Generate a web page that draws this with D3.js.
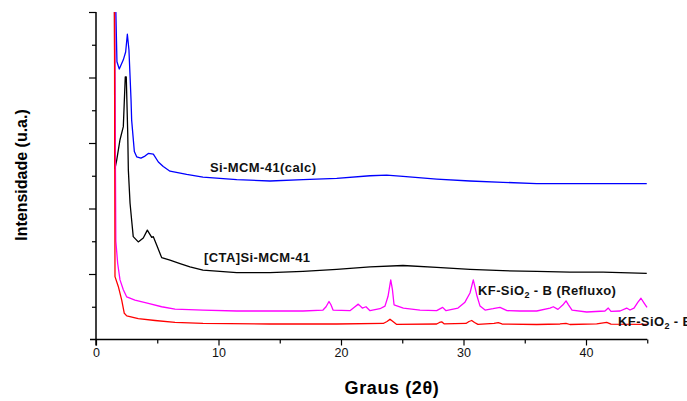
<!DOCTYPE html>
<html>
<head>
<meta charset="utf-8">
<script src="https://cdn.jsdelivr.net/npm/d3@7"></script>
<style>
  html, body { margin: 0; padding: 0; background: #fff; }
  svg { display: block; font-family: "Liberation Sans", Arial, sans-serif; }
</style>
</head>
<body>
<svg id="chart" width="687" height="401"></svg>
<script>
// ---- data (2θ, intensity in arbitrary units) ----
const xTicks = [0, 10, 20, 30, 40];
const xTitle = "Graus (2θ)";
const yTitle = "Intensidade (u.a.)";

const siMcmCalc = [
  [1.55, 5.6], [1.71, 4.24], [1.90, 4.13], [2.23, 4.27], [2.42, 4.39], [2.56, 4.66],
  [2.69, 4.42], [2.86, 3.66], [2.91, 3.35], [3.13, 2.87], [3.32, 2.79], [3.67, 2.77],
  [4.00, 2.80], [4.27, 2.84], [4.68, 2.83], [5.09, 2.71], [5.49, 2.64], [6.04, 2.57],
  [7.40, 2.52], [8.73, 2.48], [11.49, 2.44], [14.20, 2.42], [16.90, 2.44], [19.65, 2.46],
  [22.37, 2.50], [23.73, 2.51], [25.06, 2.49], [27.81, 2.45], [30.53, 2.42], [33.22, 2.40],
  [35.98, 2.38], [38.69, 2.38], [41.39, 2.38], [44.96, 2.38]
];

const ctaSiMcm = [
  [1.50, 5.6], [1.55, 2.61], [1.69, 2.74], [1.96, 3.05], [2.23, 3.25], [2.39, 4.01],
  [2.47, 4.01], [2.59, 3.15], [2.64, 2.59], [2.78, 2.08], [2.91, 1.82], [3.04, 1.57],
  [3.45, 1.49], [3.86, 1.55], [4.19, 1.67], [4.35, 1.62], [4.55, 1.56], [4.68, 1.57],
  [4.96, 1.44], [5.36, 1.25], [6.04, 1.21], [6.86, 1.16], [7.67, 1.11], [8.73, 1.06],
  [11.49, 1.02], [14.20, 1.02], [16.90, 1.04], [19.65, 1.07], [22.37, 1.11], [25.06, 1.13],
  [27.81, 1.10], [30.53, 1.07], [33.22, 1.05], [35.98, 1.04], [38.69, 1.03], [41.39, 1.03],
  [44.96, 1.01]
];

const kfRefluxo = [
  [1.50, 5.6], [1.62, 1.5], [1.77, 1.16], [1.96, 0.91], [2.23, 0.76], [2.51, 0.65],
  [3.18, 0.60], [4.27, 0.55], [5.36, 0.50], [6.45, 0.465], [8.73, 0.45], [11.49, 0.435],
  [14.20, 0.435], [16.90, 0.435], [18.53, 0.45], [18.78, 0.50], [19.02, 0.58], [19.18, 0.53],
  [19.35, 0.45], [20.73, 0.44], [21.14, 0.50], [21.41, 0.54], [21.74, 0.48], [22.04, 0.50],
  [22.37, 0.44], [23.18, 0.47], [23.59, 0.51], [23.84, 0.66], [24.06, 0.91], [24.20, 0.76],
  [24.33, 0.53], [25.09, 0.48], [26.45, 0.45], [27.81, 0.44], [28.30, 0.49], [28.57, 0.44],
  [29.55, 0.48], [30.12, 0.57], [30.53, 0.71], [30.80, 0.91], [31.08, 0.68], [31.35, 0.51],
  [31.76, 0.45], [32.41, 0.47], [32.98, 0.49], [33.55, 0.44], [34.61, 0.435], [35.98, 0.435],
  [37.06, 0.48], [37.33, 0.50], [37.71, 0.46], [38.12, 0.53], [38.37, 0.59], [38.57, 0.53],
  [38.86, 0.45], [40.06, 0.42], [41.55, 0.435], [41.82, 0.48], [42.04, 0.43], [42.78, 0.435],
  [43.32, 0.48], [43.59, 0.45], [43.92, 0.48], [44.24, 0.57], [44.49, 0.63], [44.73, 0.56],
  [44.98, 0.49]
];

const kfB = [
  [1.50, 5.6], [1.55, 0.96], [1.82, 0.81], [2.10, 0.60], [2.31, 0.40], [2.51, 0.36],
  [3.45, 0.32], [4.82, 0.29], [6.45, 0.26], [8.73, 0.245], [14.20, 0.237], [19.65, 0.237],
  [23.45, 0.245], [23.76, 0.275], [24.00, 0.31], [24.24, 0.275], [24.55, 0.23], [27.81, 0.237],
  [28.04, 0.26], [28.22, 0.27], [28.41, 0.24], [30.20, 0.245], [30.45, 0.275], [30.67, 0.29],
  [30.90, 0.26], [31.18, 0.23], [32.49, 0.245], [32.84, 0.256], [33.14, 0.237], [35.98, 0.229],
  [37.88, 0.237], [38.37, 0.247], [38.69, 0.229], [40.87, 0.24], [41.69, 0.26], [42.04, 0.234],
  [45.00, 0.232]
];

const seriesNames = ["Si-MCM-41(calc)", "[CTA]Si-MCM-41", "KF-SiO₂ - B (Refluxo)", "KF-SiO₂ - B"];
const seriesColors = ["#0000ff", "#000000", "#ff00ff", "#ff0000"];

// ---- layout ----
const svg = d3.select("#chart");
const mLeft = 96, mRight = 647.25, mTop = 12, mBottom = 339.5;

const x = d3.scaleLinear().domain([0, 45]).range([mLeft, mRight]);
const y = d3.scaleLinear().domain([0, 5]).range([mBottom, mTop]);

svg.append("defs").append("clipPath").attr("id", "plotclip")
  .append("rect").attr("x", mLeft).attr("y", mTop).attr("width", mRight - mLeft + 2).attr("height", mBottom - mTop);

const line = d3.line().x(d => x(d[0])).y(d => y(d[1]));

const data = [siMcmCalc, ctaSiMcm, kfRefluxo, kfB];
const plot = svg.append("g").attr("clip-path", "url(#plotclip)");
[1, 0, 2, 3].forEach(i => {
  plot.append("path")
    .datum(data[i])
    .attr("fill", "none")
    .attr("stroke", seriesColors[i])
    .attr("stroke-width", 1.3)
    .attr("stroke-linejoin", "round")
    .attr("d", line);
});

// ---- axes ----
const xAxisMajor = d3.axisBottom(x).tickValues(xTicks).tickSize(6).tickPadding(3).tickFormat(d3.format("d"));
const gx = svg.append("g").attr("transform", `translate(0,${mBottom})`).call(xAxisMajor);
gx.select(".domain").remove();
gx.selectAll(".tick line").attr("stroke", "#000").attr("stroke-width", 1.2);
gx.selectAll(".tick text").attr("font-size", 12.5).attr("fill", "#111")
  .attr("font-family", "Liberation Sans, Arial, sans-serif");
const xMinor = d3.axisBottom(x).tickValues([5, 15, 25, 35, 45]).tickSize(4).tickFormat("");
const gxm = svg.append("g").attr("transform", `translate(0,${mBottom})`).call(xMinor);
gxm.select(".domain").remove();
gxm.selectAll(".tick line").attr("stroke", "#000").attr("stroke-width", 1.2);

const yAxisMajor = d3.axisLeft(y).tickValues([1, 2, 3, 4, 5]).tickSize(7).tickFormat("");
const gy = svg.append("g").attr("transform", `translate(${mLeft},0)`).call(yAxisMajor);
gy.select(".domain").remove();
gy.selectAll(".tick line").attr("stroke", "#000").attr("stroke-width", 1.2);
const yMinor = d3.axisLeft(y).tickValues([0.5, 1.5, 2.5, 3.5, 4.5]).tickSize(4).tickFormat("");
const gym = svg.append("g").attr("transform", `translate(${mLeft},0)`).call(yMinor);
gym.select(".domain").remove();
gym.selectAll(".tick line").attr("stroke", "#000").attr("stroke-width", 1.2);

svg.append("line").attr("x1", mLeft - 6).attr("x2", mRight).attr("y1", mBottom).attr("y2", mBottom)
  .attr("stroke", "#000").attr("stroke-width", 1.5);
svg.append("line").attr("x1", mLeft).attr("x2", mLeft).attr("y1", mTop).attr("y2", mBottom + 6)
  .attr("stroke", "#000").attr("stroke-width", 1.5);

// ---- titles ----
svg.append("text").attr("x", 392).attr("y", 394).attr("text-anchor", "middle")
  .attr("font-size", 18).attr("font-weight", "bold").attr("letter-spacing", 0.6).text(xTitle);
svg.append("text").attr("transform", "translate(27,175) rotate(-90)").attr("text-anchor", "middle")
  .attr("font-size", 16).attr("font-weight", "bold").text(yTitle);

// ---- series labels ----
const labelPos = [[210, 172], [204, 262], [478, 295], [618, 326]];
function addLabel(i) {
  const t = svg.append("text").attr("x", labelPos[i][0]).attr("y", labelPos[i][1])
    .attr("font-size", 13).attr("font-weight", "bold").attr("letter-spacing", 0.4).attr("fill", "#111");
  const name = seriesNames[i];
  const idx = name.indexOf("₂");
  if (idx >= 0) {
    t.append("tspan").text(name.slice(0, idx));
    t.append("tspan").attr("font-size", 9).attr("dy", 3).text("2");
    t.append("tspan").attr("dy", -3).text(name.slice(idx + 1));
  } else {
    t.text(name);
  }
}
[0, 1, 2, 3].forEach(addLabel);
</script>
</body>
</html>
